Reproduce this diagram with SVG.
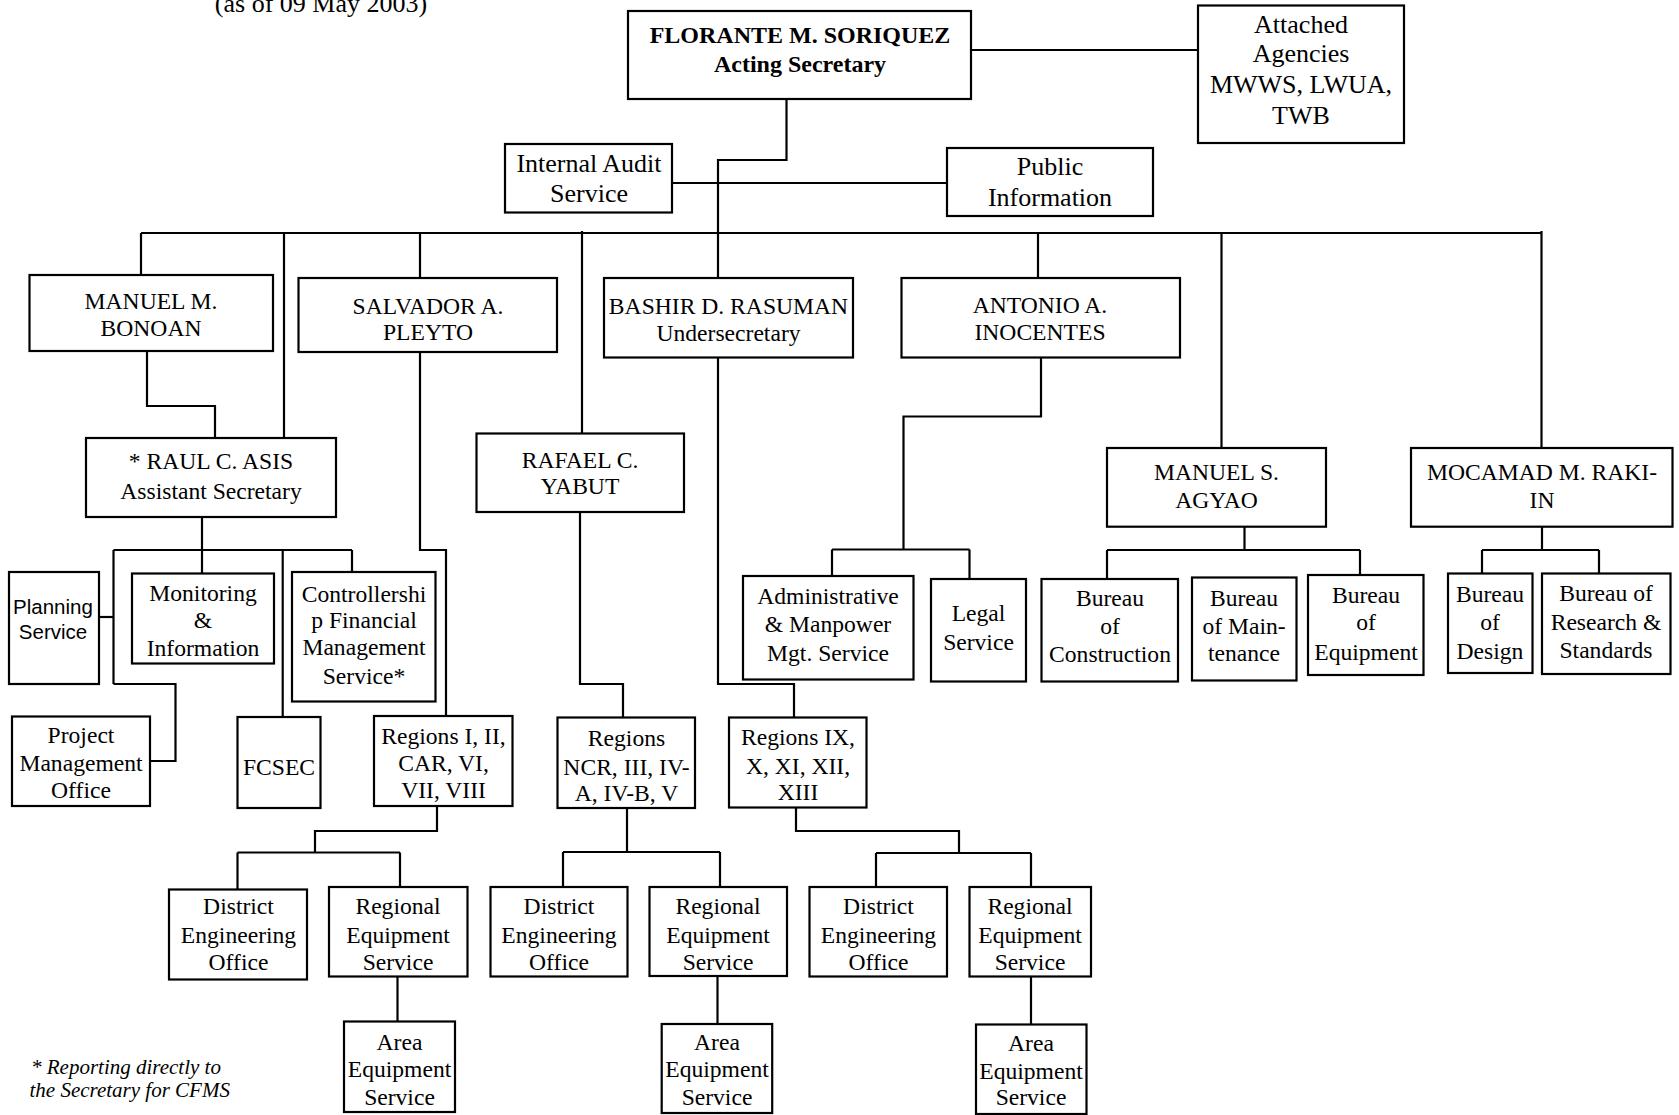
<svg xmlns="http://www.w3.org/2000/svg" width="1679" height="1115" viewBox="0 0 1679 1115">
<style>
rect{fill:#fff;stroke:#000;stroke-width:2.2}
.c path{fill:none;stroke:#000;stroke-width:2.2}
text{font-family:"Liberation Serif","Times New Roman",serif;font-size:23.6px;text-anchor:middle;fill:#000}
.b{font-weight:bold;font-size:24px}
.l{font-size:26px}
.s{font-family:"Liberation Sans",Arial,sans-serif;font-size:20.5px}
.i{font-style:italic;font-size:21px;text-anchor:start}
</style>
<rect x="0" y="0" width="1679" height="1115" style="stroke:none;fill:#fff"/>
<text class="l" x="321" y="12">(as of 09 May 2003)</text>
<g class="c">
<path d="M971,50 H1198"/>
<path d="M786.5,99 V160 H718 V278"/>
<path d="M672,183 H947"/>
<path d="M141,233 H1542"/>
<path d="M141,233 V275"/>
<path d="M284,233 V438"/>
<path d="M420,233 V278"/>
<path d="M582,231 V433.5"/>
<path d="M1038,233 V278"/>
<path d="M1221.5,233 V448"/>
<path d="M1541.5,231 V448"/>
<path d="M147,351 V406 H215 V438"/>
<path d="M202,517 V573.5"/>
<path d="M113.5,550 H352"/>
<path d="M113.5,550 V684"/>
<path d="M99,617 H113.5"/>
<path d="M113.5,684 H175.5 V761 H150"/>
<path d="M282.7,550 V717"/>
<path d="M352,550 V572"/>
<path d="M420,352 V550 H446 V716"/>
<path d="M580,512 V684 H623 V717.5"/>
<path d="M718,357.5 V684 H794 V717.5"/>
<path d="M1041,357.5 V416.5 H903.5 V549.5"/>
<path d="M832,549.5 H969.5"/>
<path d="M832,549.5 V576"/>
<path d="M969.5,549.5 V579"/>
<path d="M1244.5,526.7 V550"/>
<path d="M1107,550 H1360"/>
<path d="M1107,550 V579"/>
<path d="M1360,550 V575"/>
<path d="M1542,526.7 V550"/>
<path d="M1482,550 H1599"/>
<path d="M1482,550 V573.5"/>
<path d="M1599,550 V573.5"/>
<path d="M437,806 V831 H315 V852.5"/>
<path d="M237.5,852.5 H400"/>
<path d="M237.5,852.5 V889.5"/>
<path d="M400,852.5 V887"/>
<path d="M397.5,976.5 V1021.5"/>
<path d="M627,808 V852"/>
<path d="M563,852 H720"/>
<path d="M563,852 V887"/>
<path d="M720,852 V887"/>
<path d="M717.5,976 V1024"/>
<path d="M796,807.5 V831 H959 V853"/>
<path d="M876,853 H1031"/>
<path d="M876,853 V887"/>
<path d="M1031,853 V887"/>
<path d="M1031,976.5 V1024.5"/>
</g>
<g id="secretary"><rect x="628" y="11" width="343" height="88"/><text class="b" x="800" y="43">FLORANTE M. SORIQUEZ</text><text class="b" x="800" y="72">Acting Secretary</text></g>
<g id="attached"><rect x="1198" y="5.5" width="206" height="137.5"/><text class="l" x="1301" y="32.5">Attached</text><text class="l" x="1301" y="62">Agencies</text><text class="l" x="1301" y="93">MWWS, LWUA,</text><text class="l" x="1301" y="123.5">TWB</text></g>
<g id="internal-audit"><rect x="505" y="144" width="167" height="68.5"/><text class="l" x="589" y="171.5">Internal Audit</text><text class="l" x="589" y="202">Service</text></g>
<g id="public-info"><rect x="947" y="148" width="206" height="68"/><text class="l" x="1050" y="175">Public</text><text class="l" x="1050" y="206">Information</text></g>
<g id="bonoan"><rect x="29.5" y="275" width="243.5" height="76"/><text x="151" y="308.5">MANUEL M.</text><text x="151" y="336">BONOAN</text></g>
<g id="pleyto"><rect x="298.5" y="278" width="258.5" height="74"/><text x="428" y="313.5">SALVADOR A.</text><text x="428" y="340">PLEYTO</text></g>
<g id="rasuman"><rect x="604" y="278" width="249" height="79.5"/><text x="728.5" y="313.5">BASHIR D. RASUMAN</text><text x="728.5" y="340.5">Undersecretary</text></g>
<g id="inocentes"><rect x="901.5" y="278" width="278.5" height="79.5"/><text x="1040" y="312.5">ANTONIO A.</text><text x="1040" y="339.5">INOCENTES</text></g>
<g id="asis"><rect x="86" y="438" width="250" height="79"/><text x="211" y="468.5">* RAUL C. ASIS</text><text x="211" y="498.5">Assistant Secretary</text></g>
<g id="yabut"><rect x="476.5" y="433.5" width="207.5" height="78.5"/><text x="580" y="467.5">RAFAEL C.</text><text x="580" y="494">YABUT</text></g>
<g id="agyao"><rect x="1107" y="448" width="219" height="78.7"/><text x="1216.5" y="480">MANUEL S.</text><text x="1216.5" y="507.5">AGYAO</text></g>
<g id="rakiin"><rect x="1411" y="448" width="261.5" height="78.7"/><text x="1542" y="480">MOCAMAD M. RAKI-</text><text x="1542" y="507.5">IN</text></g>
<g id="planning"><rect x="9" y="572" width="90" height="112"/><text class="s" x="53" y="613.5">Planning</text><text class="s" x="53" y="639">Service</text></g>
<g id="monitoring"><rect x="132" y="573.5" width="142" height="90"/><text x="203" y="600.5">Monitoring</text><text x="203" y="628">&amp;</text><text x="203" y="655.5">Information</text></g>
<g id="controllership"><rect x="292" y="572" width="143.5" height="129.5"/><text x="364" y="601.5">Controllershi</text><text x="364" y="627.5">p Financial</text><text x="364" y="655">Management</text><text x="364" y="684">Service*</text></g>
<g id="pmo"><rect x="12" y="716.5" width="138" height="89.5"/><text x="81" y="742.5">Project</text><text x="81" y="770.5">Management</text><text x="81" y="797.5">Office</text></g>
<g id="fcsec"><rect x="237.5" y="717" width="83" height="91"/><text x="279" y="775">FCSEC</text></g>
<g id="regions-1"><rect x="374" y="716" width="138.5" height="90"/><text x="443.5" y="743.5">Regions I, II,</text><text x="443.5" y="770.5">CAR, VI,</text><text x="443.5" y="798">VII, VIII</text></g>
<g id="admin"><rect x="743" y="576" width="170.5" height="103.5"/><text x="828" y="603.5">Administrative</text><text x="828" y="631.5">&amp; Manpower</text><text x="828" y="661">Mgt. Service</text></g>
<g id="legal"><rect x="931" y="579" width="95" height="102.5"/><text x="978.5" y="620.5">Legal</text><text x="978.5" y="649.5">Service</text></g>
<g id="construction"><rect x="1041.5" y="579" width="136.5" height="102.5"/><text x="1110" y="605.5">Bureau</text><text x="1110" y="634">of</text><text x="1110" y="662">Construction</text></g>
<g id="maintenance"><rect x="1192" y="577.5" width="104.5" height="103"/><text x="1244" y="606">Bureau</text><text x="1244" y="633.5">of Main-</text><text x="1244" y="661">tenance</text></g>
<g id="equipment"><rect x="1308" y="575" width="115.5" height="100"/><text x="1366" y="602.5">Bureau</text><text x="1366" y="630">of</text><text x="1366" y="659.5">Equipment</text></g>
<g id="design"><rect x="1448" y="573.5" width="84.5" height="99.5"/><text x="1490" y="601.5">Bureau</text><text x="1490" y="629.5">of</text><text x="1490" y="658.5">Design</text></g>
<g id="research"><rect x="1542" y="573.5" width="128.5" height="100.5"/><text x="1606" y="601">Bureau of</text><text x="1606" y="629.5">Research &amp;</text><text x="1606" y="658">Standards</text></g>
<g id="regions-ncr"><rect x="557.5" y="717.5" width="137.5" height="90.5"/><text x="626.5" y="746">Regions</text><text x="626.5" y="774.5">NCR, III, IV-</text><text x="626.5" y="801">A, IV-B, V</text></g>
<g id="regions-9"><rect x="729" y="717.5" width="137.5" height="90"/><text x="798" y="745">Regions IX,</text><text x="798" y="773.5">X, XI, XII,</text><text x="798" y="799.5">XIII</text></g>
<g id="deo-1"><rect x="169" y="889.5" width="138" height="90"/><text x="238.5" y="914">District</text><text x="238.5" y="942.5">Engineering</text><text x="238.5" y="970">Office</text></g>
<g id="req-1"><rect x="329" y="887" width="138.5" height="89.5"/><text x="398" y="914">Regional</text><text x="398" y="942.5">Equipment</text><text x="398" y="970">Service</text></g>
<g id="aes-1"><rect x="344" y="1021.5" width="111" height="90.5"/><text x="399.5" y="1049.5">Area</text><text x="399.5" y="1077">Equipment</text><text x="399.5" y="1104.5">Service</text></g>
<g id="deo-2"><rect x="490.5" y="887" width="137" height="89.5"/><text x="559" y="914">District</text><text x="559" y="942.5">Engineering</text><text x="559" y="970">Office</text></g>
<g id="req-2"><rect x="649.5" y="887" width="137.5" height="89"/><text x="718" y="914">Regional</text><text x="718" y="942.5">Equipment</text><text x="718" y="970">Service</text></g>
<g id="aes-2"><rect x="661.7" y="1024" width="110.5" height="89"/><text x="717" y="1049.5">Area</text><text x="717" y="1077">Equipment</text><text x="717" y="1104.5">Service</text></g>
<g id="deo-3"><rect x="809.5" y="887" width="137.5" height="89.5"/><text x="878.5" y="914">District</text><text x="878.5" y="942.5">Engineering</text><text x="878.5" y="970">Office</text></g>
<g id="req-3"><rect x="969.5" y="887" width="121.5" height="89.5"/><text x="1030" y="914">Regional</text><text x="1030" y="942.5">Equipment</text><text x="1030" y="970">Service</text></g>
<g id="aes-3"><rect x="976" y="1024.5" width="110.5" height="89.5"/><text x="1031" y="1051">Area</text><text x="1031" y="1079">Equipment</text><text x="1031" y="1105">Service</text></g>
<g id="footnote"><text class="i" x="31" y="1074">* Reporting directly to</text><text class="i" x="29.5" y="1097">the Secretary for CFMS</text></g>
</svg>
